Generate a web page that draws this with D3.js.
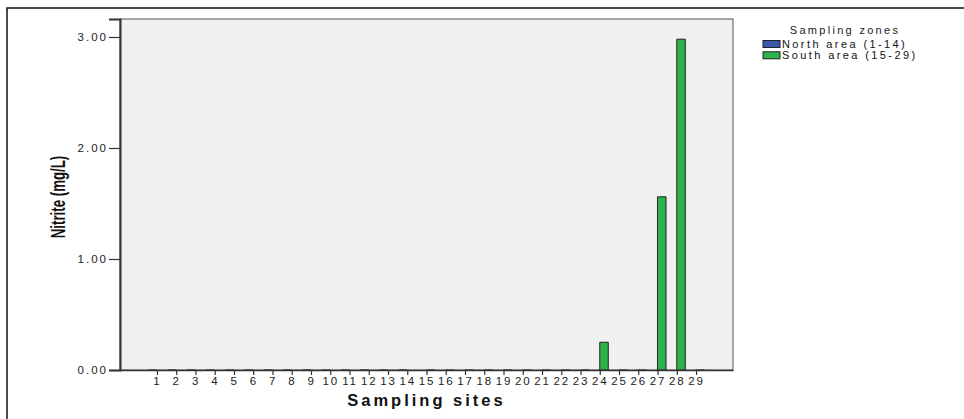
<!DOCTYPE html>
<html><head><meta charset="utf-8">
<script src="https://cdn.jsdelivr.net/npm/d3@7/dist/d3.min.js"></script>
<style>body{margin:0;background:#fff}svg{display:block}</style>
</head><body>
<script>
const sites = d3.range(1, 30).map(String);
const zones = ["North area (1-14)", "South area (15-29)"];
const zoneColors = ["#3b58aa", "#2db34b"];
// Nitrite (mg/L) per site
const nitrite = [0,0,0,0,0,0,0,0,0,0,0,0,0,0, 0,0,0,0,0,0,0,0,0,0.25,0,0,1.56,2.98,0];
const yTicks = [0, 1, 2, 3];

const W = 964, H = 419;
const svg = d3.select("body").append("svg").attr("width", W).attr("height", H);

// outer frame
svg.append("rect").attr("x", 7).attr("y", 8).attr("width", 1000).attr("height", 500)
  .attr("fill", "none").attr("stroke", "#111").attr("stroke-width", 1.5);

const L = 120, R = 733, T = 19, B = 370;
const x = d3.scalePoint().domain(sites).range([L, R]).padding(1.92);
const y = d3.scaleLinear().domain([0, 3.162]).range([B, T]);
const bw = 8.5;

svg.append("rect").attr("x", L).attr("y", T).attr("width", R - L).attr("height", B - T)
  .attr("fill", "#f0f0f0").attr("stroke", "#555").attr("stroke-width", 1);

const data = sites.map((s, i) => ({ site: s, value: nitrite[i], zone: i < 14 ? 0 : 1 }));

// bars
svg.append("g").selectAll("path").data(data).join("path")
  .attr("d", d => {
    const x0 = d.zone === 0 ? x(d.site) - bw : x(d.site);
    const x1 = x0 + bw;
    return `M${x0},${y(0)}V${y(d.value)}H${x1}V${y(0)}` + (d.value > 0 ? "Z" : "");
  })
  .attr("fill", d => d.value > 0 ? zoneColors[d.zone] : "none")
  .attr("stroke", "#222").attr("stroke-width", 1);

const font = "Liberation Sans, Arial, sans-serif";

// y axis
const yAxis = svg.append("g").attr("transform", `translate(${L},0)`)
  .call(d3.axisLeft(y).tickValues(yTicks).tickFormat(d3.format(".2f")).tickSize(11).tickPadding(1));
yAxis.select(".domain").attr("stroke", "#333").attr("stroke-width", 2);
yAxis.selectAll(".tick line").attr("stroke", "#333").attr("stroke-width", 1.2);
yAxis.selectAll("text").attr("font-family", font)
  .attr("font-size", 11.5).attr("letter-spacing", 2).attr("fill", "#222");

// x axis
const xAxis = svg.append("g").attr("transform", `translate(0,${B})`)
  .call(d3.axisBottom(x).tickSize(5).tickPadding(2).tickSizeOuter(0));
xAxis.select(".domain").attr("stroke", "#333").attr("stroke-width", 1.5);
xAxis.selectAll(".tick line").attr("stroke", "#333").attr("stroke-width", 1.2);
xAxis.selectAll("text").attr("font-family", font)
  .attr("font-size", 11.5).attr("letter-spacing", 1.8).attr("fill", "#222");

// axis titles
svg.append("text").attr("x", (L + R) / 2).attr("y", 406).attr("text-anchor", "middle")
  .attr("font-family", font).attr("font-weight", "bold")
  .attr("font-size", 16.5).attr("letter-spacing", 3).attr("fill", "#111").text("Sampling sites");

svg.append("text").attr("transform", `translate(65,197) rotate(-90) scale(0.68,1)`)
  .attr("text-anchor", "middle")
  .attr("font-family", font).attr("font-weight", "bold")
  .attr("font-size", 19.5).attr("fill", "#111").text("Nitrite (mg/L)");

// legend
const lg = svg.append("g");
lg.append("text").attr("x", 845).attr("y", 34).attr("text-anchor", "middle")
  .attr("font-family", font).attr("font-size", 11)
  .attr("letter-spacing", 2.3).attr("fill", "#222").text("Sampling zones");
zones.forEach((z, i) => {
  lg.append("rect").attr("x", 763).attr("y", 40.5 + i * 11.3).attr("width", 17).attr("height", 7)
    .attr("fill", zoneColors[i]).attr("stroke", "#222").attr("stroke-width", 1);
  lg.append("text").attr("x", 782).attr("y", 48 + i * 11.3)
    .attr("font-family", font).attr("font-size", 11)
    .attr("letter-spacing", 2.4).attr("fill", "#111").text(z);
});
</script>
</body></html>
